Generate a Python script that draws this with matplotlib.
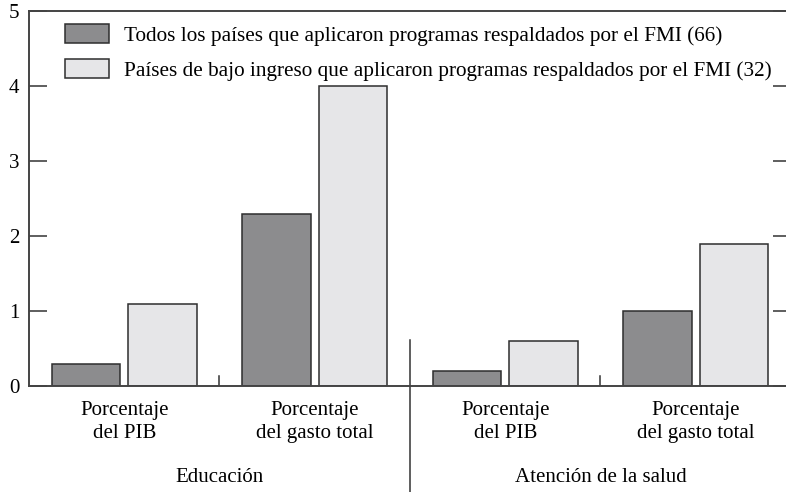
import matplotlib as mpl
mpl.use('Agg')
import matplotlib.pyplot as plt
import numpy as np

plt.rcParams['font.family'] = ['Liberation Serif', 'DejaVu Serif']

# Data
categorias = ["Porcentaje\ndel PIB", "Porcentaje\ndel gasto total",
              "Porcentaje\ndel PIB", "Porcentaje\ndel gasto total"]
grupos = ["Educación", "Atención de la salud"]
todos = [0.3, 2.3, 0.2, 1.0]
bajo_ingreso = [1.1, 4.0, 0.6, 1.9]
serie_todos = "Todos los países que aplicaron programas respaldados por el FMI (66)"
serie_bajo = "Países de bajo ingreso que aplicaron programas respaldados por el FMI (32)"

oscuro = "#8c8c8e"
claro = "#e6e6e8"
borde = "#2e2e2e"

fig = plt.figure(figsize=(7.86, 4.92), dpi=100)
# axes run a little past the right edge of the figure (right spine is cut off)
ax = fig.add_axes([29/786, 1 - 386/492, 762/786, 375/492])

x = np.arange(len(categorias))
w = 0.36
ax.bar(x - 0.2, todos, w, color=oscuro, edgecolor=borde, linewidth=1.1, label=serie_todos)
ax.bar(x + 0.2, bajo_ingreso, w, color=claro, edgecolor=borde, linewidth=1.1, label=serie_bajo)

ax.set_xlim(-0.5, 3.5)
ax.set_ylim(0, 5)

for s in ['top', 'left', 'bottom']:
    ax.spines[s].set_color('#444444')
    ax.spines[s].set_linewidth(1.4)
ax.spines['right'].set_visible(False)

ax.set_yticks(range(6))
ax.set_yticklabels([str(i) for i in range(6)], fontsize=15)
ax.tick_params(axis='y', direction='in', length=13, width=1.1, color='#333333',
               right=True, pad=7)
ax.set_xticks([])

# small separators between clusters within a group
for xs in [0.5, 2.5]:
    ax.plot([xs, xs], [0, 0.14], color='#333333', lw=1.1)
# divider between groups, running below the axis
ax.plot([1.5, 1.5], [0.62, -1.42], color='#333333', lw=1.1, clip_on=False)

for xi, lab in zip(x, categorias):
    ax.text(xi, -0.2, lab, ha='center', va='top', fontsize=15, linespacing=1.3)
for gi, g in enumerate(grupos):
    ax.text(0.5 + 2 * gi, -1.22, g, ha='center', va='center', fontsize=15)

ax.legend(loc='upper left', bbox_to_anchor=(0.0355, 0.988), frameon=False, fontsize=15.3,
          handlelength=2.1, handleheight=1.0, handletextpad=0.7, labelspacing=0.62,
          borderaxespad=0)

fig.savefig("out.png", dpi=100)
